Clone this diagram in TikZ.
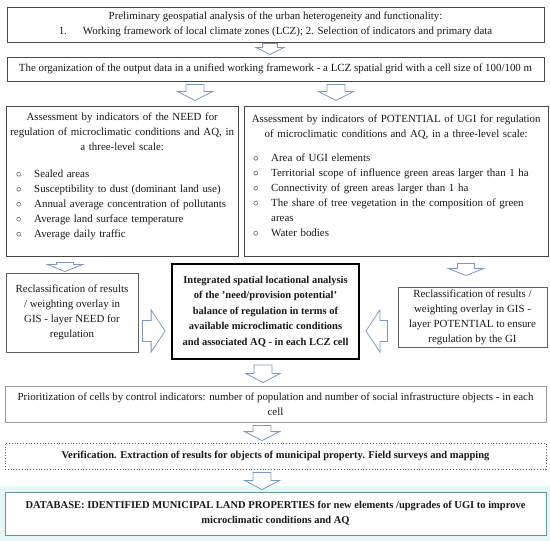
\documentclass[tikz,border=0pt]{standalone}
\usepackage{fontspec}
\setmainfont{Liberation Serif}
\usetikzlibrary{calc}
\definecolor{arrowblue}{RGB}{122,152,194}
\definecolor{txt}{RGB}{25,25,25}
\definecolor{dbteal}{RGB}{96,150,140}
\definecolor{glow}{RGB}{230,247,247}
\newlength\bitemoff
\newcommand{\bitem}[1]{\noindent\hspace*{\bitemoff}\makebox[18pt][l]{$\circ$}#1\par}
% vertical block arrow: #1 x, #2 upper anchor, #3 lower anchor, #4 top gap, #5 bottom gap, #6 shaft half, #7 head half, #8 head length
\newcommand{\vblock}[8]{%
  \draw[blockarr] let \p1=(#2), \p2=(#3) in
    (#1pt-#6pt,\y1-#4pt) -- (#1pt+#6pt,\y1-#4pt) -- (#1pt+#6pt,\y2+#5pt+#8pt) --
    (#1pt+#7pt,\y2+#5pt+#8pt) -- (#1pt,\y2+#5pt) -- (#1pt-#7pt,\y2+#5pt+#8pt) --
    (#1pt-#6pt,\y2+#5pt+#8pt) -- cycle;}
% right-pointing block arrow: #1 y(px), #2 left anchor, #3 right anchor
\newcommand{\rblock}[8]{%
  \draw[blockarr] let \p1=(#2), \p2=(#3) in
    (\x1+#4pt,-#1pt+#6pt) -- (\x2-#5pt-#8pt,-#1pt+#6pt) -- (\x2-#5pt-#8pt,-#1pt+#7pt) --
    (\x2-#5pt,-#1pt) -- (\x2-#5pt-#8pt,-#1pt-#7pt) -- (\x2-#5pt-#8pt,-#1pt-#6pt) --
    (\x1+#4pt,-#1pt-#6pt) -- cycle;}
% left-pointing block arrow: #1 y(px), #2 right anchor, #3 left anchor
\newcommand{\lblock}[8]{%
  \draw[blockarr] let \p1=(#2), \p2=(#3) in
    (\x1-#4pt,-#1pt+#6pt) -- (\x2+#5pt+#8pt,-#1pt+#6pt) -- (\x2+#5pt+#8pt,-#1pt+#7pt) --
    (\x2+#5pt,-#1pt) -- (\x2+#5pt+#8pt,-#1pt-#7pt) -- (\x2+#5pt+#8pt,-#1pt-#6pt) --
    (\x1-#4pt,-#1pt-#6pt) -- cycle;}
\tikzset{
  base/.style={rectangle, inner sep=0pt, align=center, text=txt,
    font=\fontsize{10.9}{15}\selectfont},
  boxdark/.style={base, draw=black!72, line width=1pt, fill=white},
  boxmid/.style={base, draw=black!62, line width=0.9pt, fill=white},
  boxlight/.style={base, draw=black!40, line width=0.9pt, fill=white},
  boxbold/.style={base, draw=black, line width=1.8pt, fill=white,
    font=\fontsize{10.5}{15.5}\selectfont\bfseries},
  boxdot/.style={base, draw=black!65, line width=0.8pt, dotted, fill=white,
    font=\fontsize{10.5}{15}\selectfont\bfseries},
  boxdb/.style={base, draw=dbteal, line width=1pt, fill=white,
    font=\fontsize{10.5}{15}\selectfont\bfseries},
  listtext/.style={base, anchor=north west, align=left},
  blockarr/.style={draw=arrowblue, fill=white, line width=0.8pt, line join=miter}
}
\begin{document}
\begin{tikzpicture}[x=1pt,y=-1pt]
\useasboundingbox (0,0) rectangle (550,541);
\fill[glow] (0,486) rectangle (550,541);

\node[boxdark, minimum width=537, minimum height=35] (b1) at (275.5,24.5)
  {Preliminary geospatial analysis of the urban heterogeneity and functionality:\\
   1.\hspace{16pt}Working framework of local climate zones (LCZ); 2. Selection of indicators and primary data};
\node[boxdark, minimum width=537, minimum height=24] (b2) at (275.5,69)
  {The organization of the output data in a unified working framework - a LCZ spatial grid with a cell size of 100/100 m};

\node[boxdark, minimum width=232, minimum height=150] (need) at (122,181) {};
\node[listtext, text width=226] (needtxt) at (9,113)
  {\setlength\bitemoff{7pt}%
   {\centering Assessment by indicators of the NEED for\\
    regulation of microclimatic conditions and AQ, in\\
    a three-level scale:\par}
   \vspace{12pt}
   \bitem{Sealed areas}
   \bitem{Susceptibility to dust (dominant land use)}
   \bitem{Annual average concentration of pollutants}
   \bitem{Average land surface temperature}
   \bitem{Average daily traffic}};

\node[boxdark, minimum width=304, minimum height=150] (pot) at (396,181) {};
\node[listtext, text width=298] (pottxt) at (247,115)
  {\setlength\bitemoff{6pt}%
   {\centering Assessment by indicators of POTENTIAL of UGI for regulation\\
    of microclimatic conditions and AQ, in a three-level scale:\par}
   \vspace{9pt}
   \bitem{Area of UGI elements}
   \bitem{Territorial scope of influence green areas larger than 1 ha}
   \bitem{Connectivity of green areas larger than 1 ha}
   \bitem{The share of tree vegetation in the composition of green\\\hspace*{24pt}areas}
   \bitem{Water bodies}};

\node[boxmid, minimum width=132, minimum height=79] (rl) at (72,312.5)
  {Reclassification of results\\ / weighting overlay in\\ GIS - layer NEED for\\ regulation};
\node[boxbold, minimum width=187, minimum height=95] (ctr) at (265.5,311.5)
  {Integrated spatial locational analysis\\ of the 'need/provision potential'\\
   balance of regulation in terms of\\ available microclimatic conditions\\
   and associated AQ - in each LCZ cell};
\node[boxmid, minimum width=149, minimum height=60] (rr) at (472.5,317)
  {Reclassification of results /\\ weighting overlay in GIS -\\
   layer POTENTIAL to ensure\\ regulation by the GI};

\node[boxlight, minimum width=541, minimum height=36] (prio) at (275.5,404)
  {Prioritization of cells by control indicators: number of population and number of social infrastructure objects - in each\\ cell};
\node[boxdot, minimum width=541, minimum height=26] (ver) at (275.5,456)
  {Verification. Extraction of results for objects of municipal property. Field surveys and mapping};
\node[boxdb, minimum width=541, minimum height=43] (db) at (275.5,513.5)
  {DATABASE: IDENTIFIED MUNICIPAL LAND PROPERTIES for new elements /upgrades of UGI to improve\\
   microclimatic conditions and AQ};

% block arrows
\vblock{270}{b1.south}{b2.north}{1}{2}{7.5}{14}{7}
\vblock{195}{b2.south}{need.north}{3}{5}{9}{17.5}{9}
\vblock{336}{b2.south}{pot.north}{3}{5}{9}{17.5}{9}
\vblock{65}{need.south}{rl.north}{6}{1}{8.5}{17.5}{7}
\vblock{466}{pot.south}{rr.north}{7}{11}{8.5}{17.5}{7}
\rblock{331}{rl.east}{ctr.west}{4}{6}{10.5}{21}{14}
\lblock{331}{rr.west}{ctr.east}{10}{6}{10.5}{21}{14}
\vblock{263}{ctr.south}{prio.north}{5}{3}{9}{17}{9}
\vblock{262}{prio.south}{ver.north}{3}{2}{9}{17.5}{9}
\vblock{262}{ver.south}{db.north}{3}{2}{9}{17.5}{9}
\end{tikzpicture}
\end{document}
